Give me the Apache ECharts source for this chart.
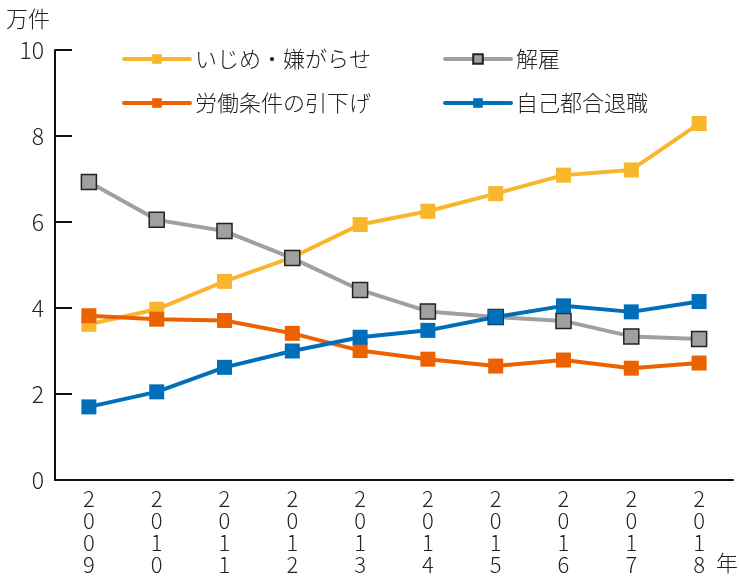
<!DOCTYPE html>
<html>
<head>
<meta charset="utf-8">
<script src="https://cdn.jsdelivr.net/npm/echarts@6/dist/echarts.min.js"></script>
<style>
  html, body { margin: 0; padding: 0; background: #fff; }
  #chart { width: 739px; height: 576px; }
</style>
</head>
<body>
<div id="chart"></div>
<script>
const years = ['2009', '2010', '2011', '2012', '2013', '2014', '2015', '2016', '2017', '2018'];
const bullying = [3.62, 3.97, 4.62, 5.18, 5.94, 6.25, 6.66, 7.09, 7.21, 8.29];
const dismissal = [6.93, 6.05, 5.79, 5.16, 4.42, 3.92, 3.79, 3.7, 3.34, 3.28];
const worseConditions = [3.82, 3.74, 3.71, 3.41, 3.01, 2.81, 2.65, 2.79, 2.6, 2.72];
const resignation = [1.7, 2.05, 2.62, 3.0, 3.32, 3.48, 3.79, 4.05, 3.91, 4.15];
const yTicks = [0, 2, 4, 6, 8, 10];

const font = '"Noto Sans CJK JP", "Noto Sans", sans-serif';
const textColor = '#222';
const weight = 300;

const chart = echarts.init(document.getElementById('chart'));

function lineSeries(name, data, color, border) {
  return {
    name: name,
    type: 'line',
    data: data,
    symbol: 'rect',
    symbolSize: 15,
    lineStyle: { color: color, width: 4 },
    itemStyle: {
      color: color,
      borderColor: border || color,
      borderWidth: border ? 1.5 : 0
    },
    emphasis: { disabled: true }
  };
}

const legendBase = {
  top: 43, orient: 'vertical', itemGap: 22,
  itemWidth: 66, itemHeight: 12,
  lineStyle: { width: 4, cap: 'round' },
  textStyle: { fontSize: 22, color: textColor, fontFamily: font, fontWeight: weight }
};

const option = {
  animation: false,
  textStyle: { fontFamily: font },
  grid: { left: 55, right: 6, top: 50, bottom: 93 },
  legend: [
    Object.assign({ left: 117, data: ['いじめ・嫌がらせ', '労働条件の引下げ'] }, legendBase),
    Object.assign({ left: 438, data: ['解雇', '自己都合退職'] }, legendBase)
  ],
  xAxis: {
    type: 'category',
    data: years,
    boundaryGap: true,
    axisLine: { lineStyle: { color: '#111', width: 2 } },
    axisTick: { inside: true, length: 13, lineStyle: { color: '#111', width: 2 } },
    axisLabel: {
      fontSize: 22,
      lineHeight: 22,
      color: textColor,
      fontFamily: font,
      fontWeight: weight,
      margin: 8,
      formatter: v => v.split('').join('\n')
    }
  },
  yAxis: {
    type: 'value',
    min: yTicks[0],
    max: yTicks[yTicks.length - 1],
    interval: 2,
    axisLine: { show: true, lineStyle: { color: '#111', width: 2 } },
    axisTick: { show: true, inside: true, length: 17, lineStyle: { color: '#111', width: 2 } },
    splitLine: { show: false },
    axisLabel: { fontSize: 23, color: textColor, fontFamily: font, fontWeight: weight, margin: 11 }
  },
  graphic: [
    { type: 'text', left: 6, top: 8, style: { text: '万件', fontSize: 22, fill: textColor, fontFamily: font, fontWeight: weight } },
    { type: 'text', left: 716, top: 552, style: { text: '年', fontSize: 22, fill: textColor, fontFamily: font, fontWeight: weight } }
  ],
  series: [
    lineSeries('いじめ・嫌がらせ', bullying, '#F8B62D'),
    lineSeries('解雇', dismissal, '#A0A0A0', '#222'),
    lineSeries('労働条件の引下げ', worseConditions, '#EC6100'),
    lineSeries('自己都合退職', resignation, '#006EB9')
  ]
};

chart.setOption(option);
</script>
</body>
</html>
